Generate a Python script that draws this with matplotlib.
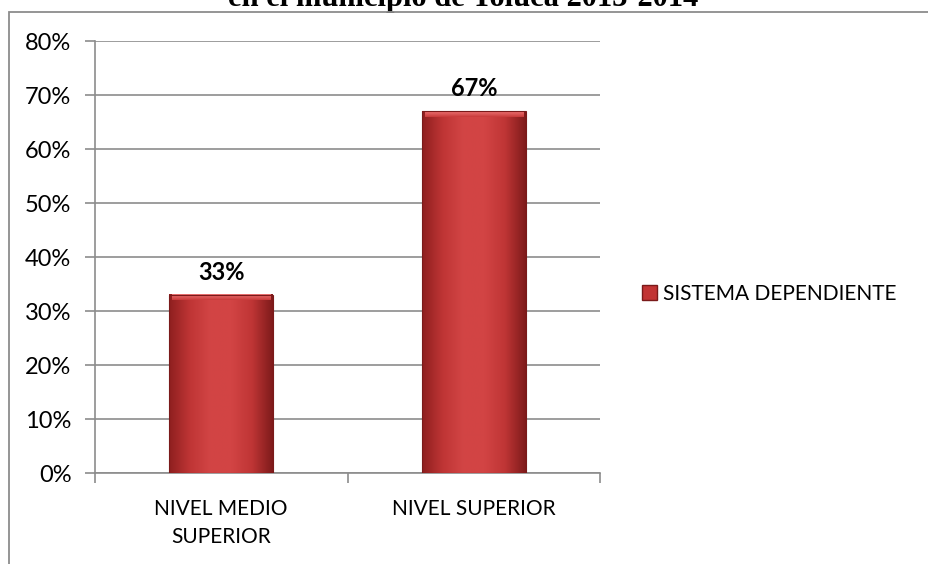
import matplotlib
matplotlib.use("Agg")
import matplotlib.pyplot as plt
import matplotlib.patches as patches
import numpy as np
from matplotlib.colors import LinearSegmentedColormap

categories = ["NIVEL MEDIO\nSUPERIOR", "NIVEL SUPERIOR"]
values = [0.33, 0.67]
series_name = "SISTEMA DEPENDIENTE"
y_ticks = [0, 0.1, 0.2, 0.3, 0.4, 0.5, 0.6, 0.7, 0.8]
title = "Distribución de la matrícula por nivel educativo\nen el municipio de Toluca 2013-2014"

plt.rcParams['font.family'] = ['Lato', 'DejaVu Sans']

fig = plt.figure(figsize=(9.29, 5.64), dpi=100)
fig.patch.set_facecolor('white')
ax = fig.add_axes([95 / 929, 1 - 473 / 564, 505 / 929, 432 / 564])

x = np.arange(len(categories))
width = 0.41
bars = ax.bar(x, values, width=width, color='none', zorder=3)

# shaded bar fill: darker at the edges, lighter in the middle
cmap = LinearSegmentedColormap.from_list(
    "bevel", ["#8e1f1f", "#bf3535", "#d24545", "#d24444", "#bf3535", "#7e1b1b"])
grad = np.linspace(0, 1, 256).reshape(1, -1)
# light top edge fading down into the bar colour
top_cmap = LinearSegmentedColormap.from_list("top", ["#c83a3a", "#ee7474"])
top_grad = np.linspace(0, 1, 64).reshape(-1, 1)
for b in bars:
    x0, y0 = b.get_x(), b.get_y()
    w, h = b.get_width(), b.get_height()
    ax.imshow(grad, cmap=cmap, aspect='auto', extent=[x0, x0 + w, y0, y0 + h],
              zorder=3, interpolation='bilinear')
    ax.imshow(top_grad, cmap=top_cmap, aspect='auto', origin='lower',
              extent=[x0 + 0.01, x0 + w - 0.01, y0 + h - 0.01, y0 + h],
              zorder=4, interpolation='bilinear')
    ax.add_patch(patches.Rectangle((x0, y0), w, h, facecolor='none',
                                   edgecolor='#7a1a1a', linewidth=0.8, zorder=5))
    ax.text(b.get_x() + w / 2, h + 0.02, f"{h:.0%}", ha='center', va='bottom',
            fontsize=17, fontweight='bold', color='black', zorder=6)

ax.set_xlim(-0.5, len(categories) - 0.5)
ax.set_ylim(0, 0.8)
ax.set_yticks(y_ticks)
ax.set_yticklabels([f"{t:.0%}" for t in y_ticks], fontsize=17)
ax.yaxis.grid(True, color='#8c8c8c', linewidth=1.2, zorder=0)
ax.set_axisbelow(True)

ax.set_xticks([-0.5, 0.5, 1.5], minor=False)
ax.set_xticklabels([])
ax.set_xticks(x, minor=True)
ax.set_xticklabels(categories, minor=True, fontsize=15, linespacing=1.45)
ax.tick_params(axis='x', which='minor', length=0, pad=19)
ax.tick_params(axis='x', which='major', length=7, color='#8c8c8c', width=1.2)
ax.tick_params(axis='y', length=7, color='#8c8c8c', width=1.2, pad=10)

for side in ['top', 'right']:
    ax.spines[side].set_visible(False)
for side in ['left', 'bottom']:
    ax.spines[side].set_color('#8c8c8c')
    ax.spines[side].set_linewidth(1.2)

# legend to the right of the plot area
legend_handle = patches.Patch(facecolor='#c23434', edgecolor='#7a1a1a', label=series_name)
fig.legend(handles=[legend_handle], loc='center left', bbox_to_anchor=(642 / 929, 1 - 294 / 564),
           frameon=False, fontsize=15, handlelength=0.7, handleheight=0.7,
           handletextpad=0.3, borderpad=0, borderaxespad=0)

# chart area border
fig.patches.append(patches.Rectangle((9 / 929, -0.1), 1.2, 1 - 12 / 564 + 0.1,
                                     transform=fig.transFigure, facecolor='none',
                                     edgecolor='#8c8c8c', linewidth=1.3, zorder=10))

fig.text(463 / 929, 1 - 6 / 564, title, ha='center', va='baseline', fontsize=22,
         fontweight='bold', family=['Liberation Serif'], linespacing=1.1)

fig.savefig("out.png", dpi=100)
